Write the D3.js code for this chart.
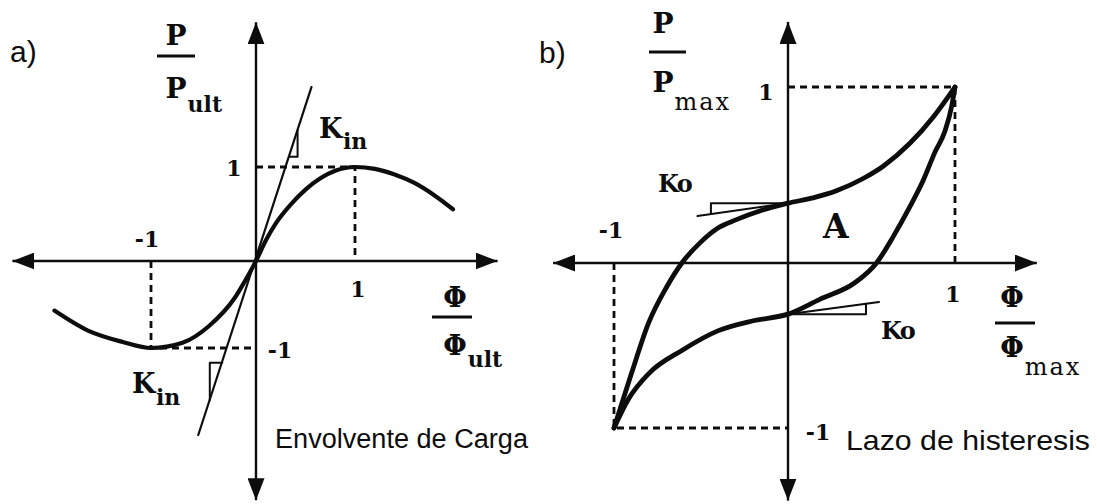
<!DOCTYPE html>
<html>
<head>
<meta charset="utf-8">
<script src="https://cdn.jsdelivr.net/npm/d3@7"></script>
<style>
  html, body { margin: 0; padding: 0; background: #fff; }
  svg { display: block; }
</style>
</head>
<body>
<svg id="chart" width="1097" height="504"></svg>
<script>
// ---- (a) load envelope, normalised P/Pult vs Phi/Phi_ult ----
const envelopeX = [-1.92, -1.6, -1.27, -1.0, -0.7, -0.45, -0.2, -0.1, 0, 0.1, 0.2, 0.35, 0.5, 0.65, 0.8, 1.0, 1.2, 1.4, 1.6, 1.8, 1.99];
const envelopeY = [-0.57, -0.80, -0.93, -1.0, -0.94, -0.75, -0.42, -0.22, 0, 0.22, 0.40, 0.60, 0.76, 0.88, 0.96, 1.0, 0.98, 0.92, 0.83, 0.70, 0.55];

// initial stiffness Kin (tangent at the origin) and its slope triangles
const kinLineX = [-0.55, 0.56];
const kinLineY = [-2.0, 1.85];
const kinTriUpperX = [0.336, 0.42, 0.42];
const kinTriUpperY = [1.11, 1.11, 1.39];
const kinTriLowerX = [-0.321, -0.44, -0.44];
const kinTriLowerY = [-1.17, -1.17, -1.60];

// ---- (b) hysteresis loop, normalised P/Pmax vs Phi/Phi_max ----
const loopUpperX = [-1, -0.90, -0.80, -0.70, -0.61, -0.50, -0.40, -0.30, -0.15, 0, 0.15, 0.29, 0.45, 0.57, 0.73, 0.87, 1];
const loopUpperY = [-1, -0.67, -0.36, -0.15, 0, 0.12, 0.20, 0.245, 0.30, 0.34, 0.37, 0.41, 0.48, 0.55, 0.68, 0.83, 1];
const loopLowerX = [1, 0.98, 0.94, 0.88, 0.81, 0.73, 0.63, 0.53, 0.40, 0.19, 0, -0.20, -0.40, -0.61, -0.80, -0.92, -1];
const loopLowerY = [1, 0.89, 0.75, 0.63, 0.47, 0.32, 0.15, 0, -0.12, -0.22, -0.31, -0.35, -0.41, -0.53, -0.67, -0.83, -1];

// unloading/reloading stiffness Ko at the zero-displacement crossings
const koUpperX = [0, -0.52];
const koUpperY = [0.34, 0.267];
const koTriUpperX = [0, -0.443, -0.443];
const koTriUpperY = [0.34, 0.34, 0.278];
const koLowerX = [0, 0.545];
const koLowerY = [-0.31, -0.236];
const koTriLowerX = [0, 0.467, 0.467];
const koTriLowerY = [-0.31, -0.31, -0.247];

// axis extents in normalised units
const axisLX = [-2.32, 2.44];
const axisLY = [-2.75, 2.54];
const axisRX = [-1.35, 1.49];
const axisRY = [-1.44, 1.37];

// text
const tickLabels = ["1", "-1"];
const panelTags = ["a)", "b)"];
const captions = ["Envolvente de Carga", "Lazo de histeresis"];
const subscripts = ["ult", "max"];
const kinLabel = ["K", "in"];
const koLabel = "Ko";
const areaLabel = "A";

const zip = (xs, ys) => xs.map((x, i) => [x, ys[i]]);

const svg = d3.select("#chart");
const ink = "#0d0d0d";
const serif = "'DejaVu Serif', 'Liberation Serif', serif";
const sans = "'Liberation Sans', Arial, Helvetica, sans-serif";

// arrowhead
svg.append("defs").append("marker")
  .attr("id", "arrow")
  .attr("viewBox", "0 0 22 17")
  .attr("refX", 22).attr("refY", 8.5)
  .attr("markerWidth", 22).attr("markerHeight", 17)
  .attr("markerUnits", "userSpaceOnUse")
  .attr("orient", "auto")
  .append("path")
  .attr("d", "M0,0 L22,8.5 L0,17 Z")
  .attr("fill", ink);

// scales (piecewise so the hand-drawn asymmetry of each quadrant is kept)
const xL = d3.scaleLinear().domain([-1, 0, 1]).range([151, 256, 355]);
const yL = d3.scaleLinear().domain([-1, 0, 1]).range([348, 261, 167]);
const xR = d3.scaleLinear().domain([-1, 0, 1]).range([614, 788, 955]);
const yR = d3.scaleLinear().domain([-1, 0, 1]).range([428, 263, 87]);

function drawAxes(g, x, y, ex, ey) {
  const segs = [
    [[0, 0], [ex[0], 0]], [[0, 0], [ex[1], 0]],
    [[0, 0], [0, ey[0]]], [[0, 0], [0, ey[1]]]
  ];
  g.selectAll("line.axis").data(segs).join("line")
    .attr("class", "axis")
    .attr("x1", d => x(d[0][0])).attr("y1", d => y(d[0][1]))
    .attr("x2", d => x(d[1][0])).attr("y2", d => y(d[1][1]))
    .attr("stroke", ink).attr("stroke-width", 2.4)
    .attr("marker-end", "url(#arrow)");
}

function drawGuides(g, x, y) {
  const guides = [
    [[0, 1], [1, 1], [1, 0]],
    [[-1, 0], [-1, -1], [0, -1]]
  ];
  const line = d3.line().x(d => x(d[0])).y(d => y(d[1]));
  g.selectAll("path.guide").data(guides).join("path")
    .attr("class", "guide")
    .attr("d", line)
    .attr("fill", "none").attr("stroke", ink)
    .attr("stroke-width", 2.8).attr("stroke-dasharray", "7,5");
}

function poly(g, pts, x, y, width, curve) {
  const line = d3.line().x(d => x(d[0])).y(d => y(d[1])).curve(curve || d3.curveLinear);
  g.append("path")
    .attr("d", line(pts))
    .attr("fill", "none").attr("stroke", ink)
    .attr("stroke-width", width)
    .attr("stroke-linecap", "round").attr("stroke-linejoin", "round");
}

function fraction(g, cx, topBase, barY, barX0, barX1, botBase, sym, sub, subBase, subSize, subWeight, subSpacing, symSize) {
  g.append("text").attr("x", cx).attr("y", topBase)
    .attr("text-anchor", "middle").attr("font-family", serif)
    .attr("font-weight", "bold").attr("font-size", symSize).attr("fill", ink).text(sym);
  g.append("line").attr("x1", barX0).attr("x2", barX1).attr("y1", barY).attr("y2", barY)
    .attr("stroke", ink).attr("stroke-width", 3);
  const t = g.append("text").attr("x", cx).attr("y", botBase)
    .attr("text-anchor", "middle").attr("font-family", serif)
    .attr("font-weight", "bold").attr("font-size", symSize).attr("fill", ink).text(sym);
  const bb = t.node().getBBox();
  g.append("text").attr("x", bb.x + bb.width + 1).attr("y", subBase)
    .attr("font-family", serif).attr("font-weight", subWeight)
    .attr("font-size", subSize).attr("letter-spacing", subSpacing)
    .attr("fill", ink).text(sub);
}

function label(g, x, y, txt, size, anchor, family, weight) {
  return g.append("text").attr("x", x).attr("y", y)
    .attr("text-anchor", anchor || "middle")
    .attr("font-family", family || serif)
    .attr("font-weight", weight || "bold")
    .attr("font-size", size).attr("fill", ink).text(txt);
}

// ---------------- panel (a) ----------------
const gA = svg.append("g");
drawGuides(gA, xL, yL);
drawAxes(gA, xL, yL, axisLX, axisLY);
poly(gA, zip(kinLineX, kinLineY), xL, yL, 2.2);
poly(gA, zip(kinTriUpperX, kinTriUpperY), xL, yL, 2);
poly(gA, zip(kinTriLowerX, kinTriLowerY), xL, yL, 2);
poly(gA, zip(envelopeX, envelopeY), xL, yL, 4.2, d3.curveMonotoneX);

label(gA, xL(0) - 22, yL(1) + 9, tickLabels[0], 22);
label(gA, xL(-1) - 4, yL(0) - 14, tickLabels[1], 22);
label(gA, xL(1) + 3, yL(0) + 36, tickLabels[0], 22);
label(gA, xL(0) + 24, yL(-1) + 10, tickLabels[1], 22);

label(gA, 319, 138, kinLabel[0], 27, "start");
label(gA, 343, 149, kinLabel[1], 22, "start");
label(gA, 132, 393, kinLabel[0], 27, "start");
label(gA, 156, 405, kinLabel[1], 22, "start");

fraction(gA, 176, 45, 56, 157, 195, 98, "P", subscripts[0], 112, 22, "bold", 0, 28);
fraction(gA, 455, 307, 317, 432, 472, 355, "Φ", subscripts[0], 367, 22, "bold", 0, 27);

label(gA, 10, 62, panelTags[0], 30, "start", sans, "normal");
label(gA, 275, 448, captions[0], 27, "start", sans, "normal").attr("textLength", 253).attr("lengthAdjust", "spacingAndGlyphs");

// ---------------- panel (b) ----------------
const gB = svg.append("g");
drawGuides(gB, xR, yR);
drawAxes(gB, xR, yR, axisRX, axisRY);
poly(gB, zip(koUpperX, koUpperY), xR, yR, 2);
poly(gB, zip(koTriUpperX, koTriUpperY), xR, yR, 2);
poly(gB, zip(koLowerX, koLowerY), xR, yR, 2);
poly(gB, zip(koTriLowerX, koTriLowerY), xR, yR, 2);
poly(gB, zip(loopUpperX, loopUpperY), xR, yR, 4.8, d3.curveMonotoneX);
poly(gB, zip(loopLowerX, loopLowerY), xR, yR, 4.8, d3.curveMonotoneX);

label(gB, xR(0) - 22, yR(1) + 13, tickLabels[0], 22);
label(gB, xR(-1) - 3, yR(0) - 25, tickLabels[1], 22);
label(gB, xR(1) - 2, yR(0) + 39, tickLabels[0], 22);
label(gB, xR(0) + 30, yR(-1) + 12, tickLabels[1], 22);

label(gB, 658, 192, koLabel, 24, "start").attr("letter-spacing", -1.5);
label(gB, 881, 339, koLabel, 24, "start").attr("letter-spacing", -1.5);
label(gB, 823, 238, areaLabel, 33, "start");

fraction(gB, 663, 33, 52, 649, 686, 92, "P", subscripts[1], 110, 24, "normal", 2, 28);
fraction(gB, 1012, 307, 323, 995, 1035, 357, "Φ", subscripts[1], 375, 24, "normal", 2, 27);

label(gB, 539, 63, panelTags[1], 30, "start", sans, "normal");
label(gB, 846, 450, captions[1], 28, "start", sans, "normal").attr("textLength", 244).attr("lengthAdjust", "spacingAndGlyphs");
</script>
</body>
</html>
